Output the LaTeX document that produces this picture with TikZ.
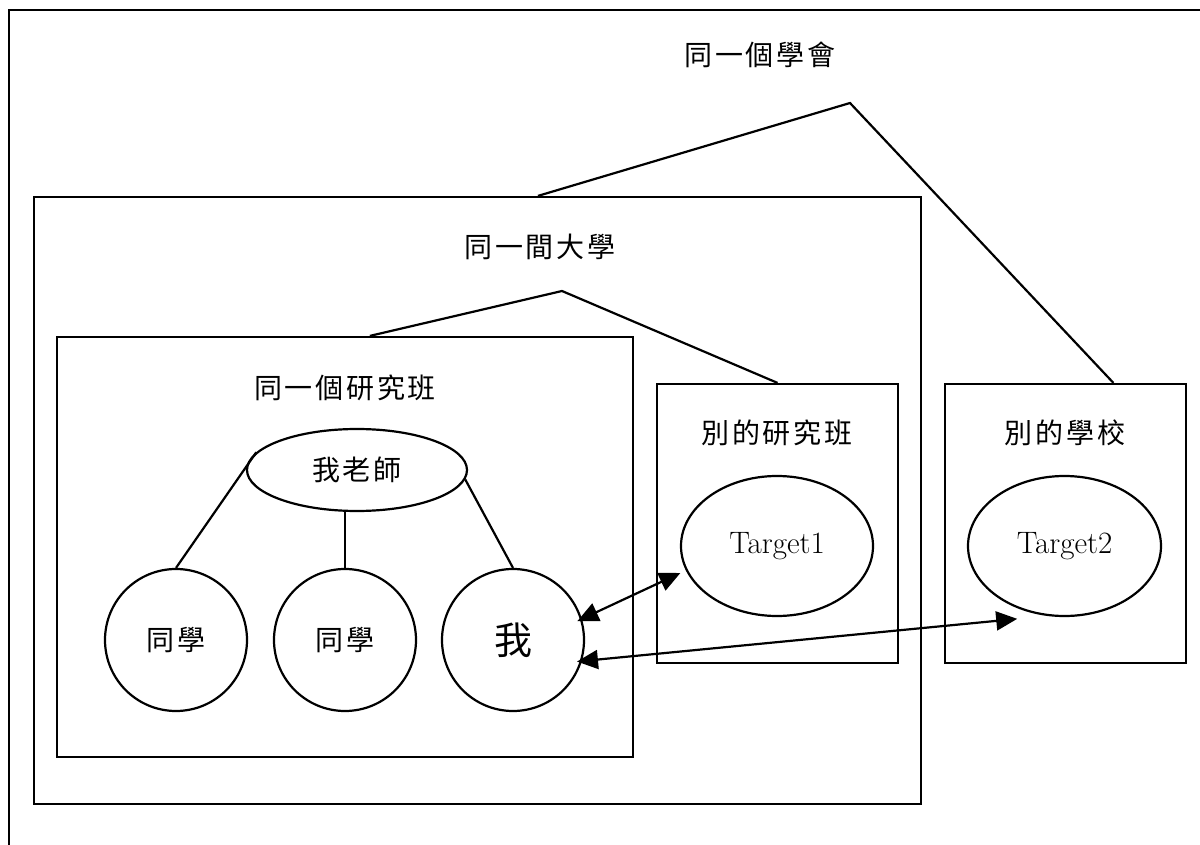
\documentclass[tikz,border=0pt]{standalone}
\usepackage{fontspec}
\newfontfamily\cjk[LetterSpace=10]{Noto Sans CJK TC}
\usetikzlibrary{arrows.meta,calc,shapes.geometric}
\begin{document}
\begin{tikzpicture}[x=1pt,y=-1pt,
  box/.style={draw, rectangle, inner sep=0pt, line width=2.2pt},
  oval/.style={draw, ellipse, inner sep=0pt, line width=2.2pt},
  ball/.style={draw, circle, inner sep=0pt, minimum size=142pt, line width=2.2pt, font=\cjk\fontsize{28}{32}\selectfont},
  lbl/.style={font=\cjk\fontsize{28}{32}\selectfont, inner sep=0pt},
  tgt/.style={font=\fontsize{31}{35}\selectfont},
  link/.style={line width=2.2pt},
  dbl/.style={{Triangle[length=21pt,width=19pt]}-{Triangle[length=21pt,width=19pt]}, line width=2.2pt}
]
\useasboundingbox (0,0) rectangle (1200,845);
\clip (0,0) rectangle (1200,845);
% outer frame (extends beyond the page)
\node[box, line width=2.5pt, minimum width=1240pt, minimum height=900pt] (society) at (629,460) {};

% boxes
\node[box, minimum width=887pt, minimum height=607pt] (uni) at (477.5,500.5) {};
\node[box, minimum width=576pt, minimum height=420pt] (lab) at (345,547) {};
\node[box, minimum width=241pt, minimum height=279pt] (olab) at (777.5,523.5) {};
\node[box, minimum width=241pt, minimum height=279pt] (oschool) at (1065.5,523.5) {};

% labels
\node[lbl] (tsoc) at (760,55) {同一個學會};
\node[lbl] (tuni) at (540,247) {同一間大學};
\node[lbl] (tlab) at (345,388) {同一個研究班};
\node[lbl] (tolab) at (777,433) {別的研究班};
\node[lbl] (tosch) at (1065,433) {別的學校};

% tree apexes
\coordinate (apexA) at (850,103);
\coordinate (apexB) at (562,291);
\draw[link] ($(uni.north west)!0.568!(uni.north east)$) -- (apexA) -- ($(oschool.north west)!0.697!(oschool.north east)$);
\draw[link] ($(lab.north west)!0.543!(lab.north east)$) -- (apexB) -- (olab.north);

% people
\node[oval, minimum width=220pt, minimum height=82pt, font=\cjk\fontsize{28}{32}\selectfont] (teacher) at (357,470) {我老師};
\node[ball] (mate1) at (176,640) {同學};
\node[ball] (mate2) at (345,640) {同學};
\node[ball, font=\cjk\fontsize{38}{42}\selectfont] (me) at (513,640) {我};
\node[oval, minimum width=192pt, minimum height=140pt, tgt] (t1) at (777,546) {Target1};
\node[oval, minimum width=193pt, minimum height=140pt, tgt] (t2) at (1064.5,546) {Target2};

\draw[link] (teacher.170) -- (mate1.north);
\draw[link] (mate2.north |- teacher.south) -- (mate2.north);
\draw[link] (teacher.-5) -- (me.north);

\draw[dbl, shorten <=-5pt, shorten >=6pt] (me.17) -- (t1.195);
\draw[dbl, shorten <=-5pt, shorten >=30pt] (me.-17) -- (t2.256);
\end{tikzpicture}
\end{document}
